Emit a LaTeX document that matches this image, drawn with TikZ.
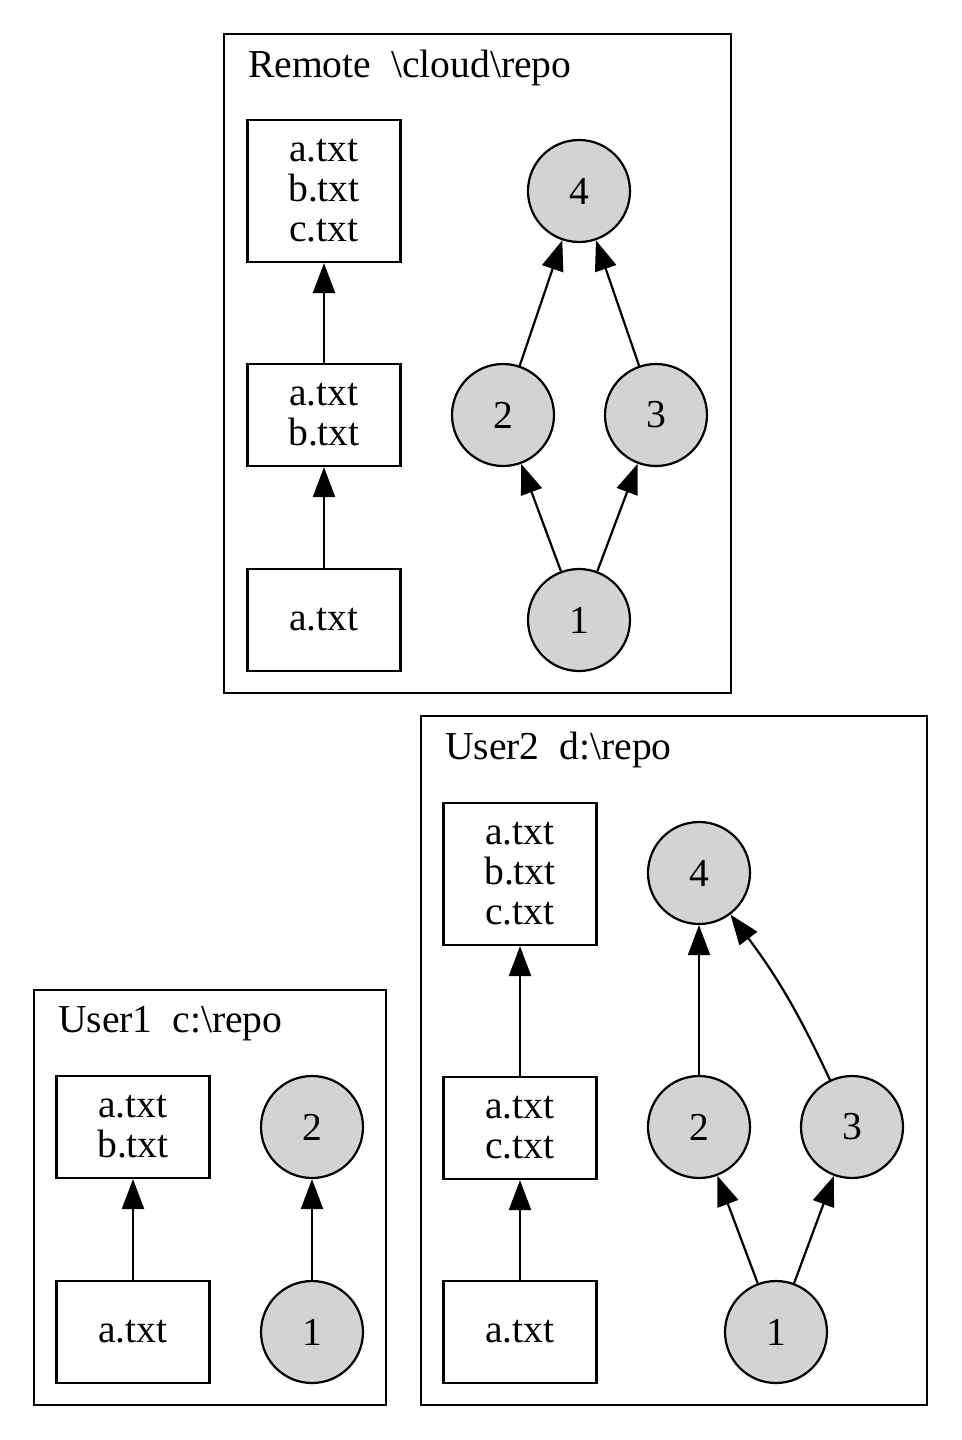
\documentclass[tikz,border=0pt]{standalone}
\usepackage{fontspec}
\setmainfont{Liberation Serif}
\usetikzlibrary{arrows.meta}
\definecolor{commitgray}{HTML}{D3D3D3}

\begin{document}
\begin{tikzpicture}[x=0.5pt, y=-0.5pt, line width=1.1pt,
    every node/.style={font=\fontsize{19.8}{20}\selectfont},
    filebox/.style={rectangle, draw=black, minimum width=76.5pt, minimum height=51pt, align=center, inner sep=0pt},
    tallbox/.style={filebox, minimum height=71pt},
    commit/.style={circle, draw=black, fill=commitgray, minimum size=51pt, inner sep=0pt},
    title/.style={anchor=west, inner sep=0pt},
    >={Triangle[length=15pt, width=11pt]}]

    \useasboundingbox (0,0) rectangle (962,1440);

    % Remote
    \draw (224,34) rectangle (731,693);
    \node (rtitle) [title] at (247,68) {Remote\ \ \textbackslash cloud\textbackslash repo};
    \node (rf3) [tallbox] at (324,191) {a.txt \\ b.txt \\ c.txt};
    \node (rf2) [filebox] at (324,415) {a.txt \\ b.txt};
    \node (rf1) [filebox] at (324,620) {a.txt};
    \node (rc4) [commit] at (579,191) {4};
    \node (rc2) [commit] at (503,415) {2};
    \node (rc3) [commit] at (656,415) {3};
    \node (rc1) [commit] at (579,620) {1};

    % User1
    \draw (34,990) rectangle (386,1405);
    \node (atitle) [title] at (57,1024) {User1\ \ c:\textbackslash repo};
    \node (af2) [filebox] at (133,1127) {a.txt \\ b.txt};
    \node (af1) [filebox] at (133,1332) {a.txt};
    \node (ac2) [commit] at (312,1127) {2};
    \node (ac1) [commit] at (312,1332) {1};

    % User2
    \draw (421,716) rectangle (927,1405);
    \node (btitle) [title] at (444,750) {User2\ \ d:\textbackslash repo};
    \node (bf3) [tallbox] at (520,874) {a.txt \\ b.txt \\ c.txt};
    \node (bf2) [filebox] at (520,1128) {a.txt \\ c.txt};
    \node (bf1) [filebox] at (520,1332) {a.txt};
    \node (bc4) [commit] at (699,873) {4};
    \node (bc2) [commit] at (699,1127) {2};
    \node (bc3) [commit] at (852,1127) {3};
    \node (bc1) [commit] at (776,1332) {1};

    % Arrows
    \draw[->] (rf1) -- (rf2);
    \draw[->] (rf2) -- (rf3);
    \draw[->] (rc1) -- (rc2);
    \draw[->] (rc1) -- (rc3);
    \draw[->] (rc2) -- (rc4);
    \draw[->] (rc3) -- (rc4);

    \draw[->] (af1) -- (af2);
    \draw[->] (ac1) -- (ac2);

    \draw[->] (bf1) -- (bf2);
    \draw[->] (bf2) -- (bf3);
    \draw[->] (bc1) -- (bc2);
    \draw[->] (bc1) -- (bc3);
    \draw[->] (bc2) -- (bc4);
    \draw[->] (bc3) to[bend right=6] (bc4);

\end{tikzpicture}
\end{document}
